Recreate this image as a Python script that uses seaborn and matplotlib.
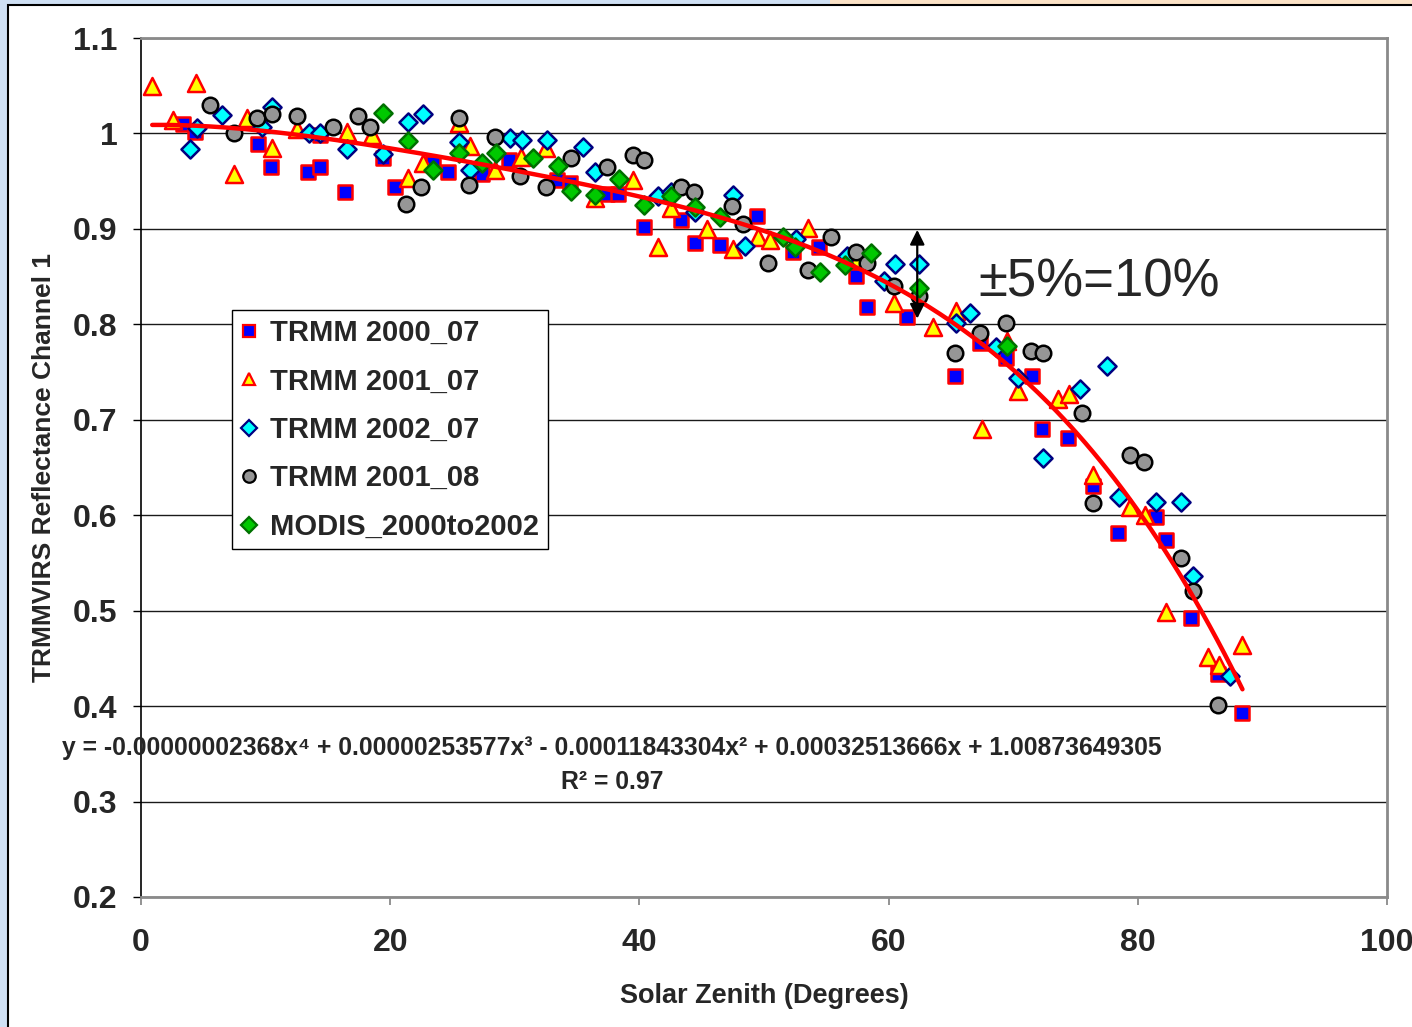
import numpy as np
import pandas as pd
import matplotlib
matplotlib.use("Agg")
import matplotlib.pyplot as plt
import seaborn as sns
from matplotlib.patches import Rectangle
from matplotlib.lines import Line2D

# ---------------- data ----------------
sq_x = [3.4, 4.3, 9.4, 10.4, 13.4, 14.4, 14.4, 16.4, 19.4, 20.4, 23.4, 24.6, 27.4, 29.5, 33.4, 34.4,
        37.4, 38.3, 40.4, 43.3, 44.5, 46.5, 49.4, 52.3, 54.4, 57.4, 58.3, 61.5, 65.3, 67.3, 69.4, 71.5,
        72.3, 74.4, 76.4, 78.4, 81.5, 82.3, 84.3, 86.4, 88.4]
sq_y = [1.010, 1.002, 0.989, 0.965, 0.960, 0.965, 0.998, 0.939, 0.974, 0.944, 0.969, 0.960, 0.957,
        0.972, 0.951, 0.948, 0.937, 0.937, 0.902, 0.909, 0.885, 0.883, 0.914, 0.876, 0.881, 0.851,
        0.818, 0.808, 0.746, 0.780, 0.765, 0.746, 0.690, 0.681, 0.631, 0.581, 0.598, 0.574, 0.492,
        0.434, 0.393]

tri_x = [0.9, 2.6, 4.4, 7.5, 8.5, 10.5, 12.5, 16.5, 18.5, 21.4, 22.6, 25.5, 26.4, 28.4, 30.5, 32.5,
         36.4, 39.5, 41.5, 42.5, 45.4, 47.5, 49.5, 50.5, 53.5, 57.5, 60.4, 63.6, 65.4, 67.5, 69.5,
         70.4, 73.6, 74.5, 76.4, 79.4, 80.6, 82.3, 85.6, 86.5, 88.4]
tri_y = [1.050, 1.014, 1.053, 0.958, 1.016, 0.985, 1.005, 1.001, 0.998, 0.953, 0.969, 1.011, 0.987,
         0.962, 0.975, 0.985, 0.932, 0.951, 0.881, 0.922, 0.900, 0.879, 0.892, 0.888, 0.901, 0.867,
         0.822, 0.797, 0.814, 0.690, 0.783, 0.730, 0.722, 0.727, 0.642, 0.609, 0.600, 0.499, 0.451,
         0.443, 0.464]

dia_x = [3.9, 4.5, 6.5, 9.7, 10.5, 13.5, 14.4, 16.5, 19.4, 21.4, 22.6, 25.5, 26.4, 29.6, 30.6, 32.6,
         35.5, 36.4, 41.5, 42.5, 44.5, 47.5, 48.5, 52.6, 56.7, 59.6, 60.5, 62.4, 65.4, 66.5, 68.6,
         70.4, 72.4, 75.4, 77.5, 78.5, 81.5, 83.5, 84.4, 87.4]
dia_y = [0.984, 1.006, 1.019, 1.007, 1.028, 1.000, 1.000, 0.984, 0.978, 1.012, 1.020, 0.991, 0.962,
         0.995, 0.993, 0.993, 0.986, 0.960, 0.934, 0.939, 0.918, 0.935, 0.882, 0.889, 0.872, 0.845,
         0.863, 0.863, 0.801, 0.812, 0.776, 0.744, 0.660, 0.732, 0.756, 0.619, 0.614, 0.614, 0.536,
         0.432]

cir_x = [5.5, 7.5, 9.3, 10.5, 12.5, 15.4, 17.4, 18.4, 21.3, 22.5, 25.5, 26.3, 28.4, 30.4, 32.5, 34.5,
         37.4, 39.5, 40.4, 43.3, 44.4, 47.4, 48.3, 50.3, 53.5, 55.4, 57.4, 58.3, 60.4, 62.4, 65.3,
         67.3, 69.4, 71.4, 72.4, 75.5, 76.4, 79.4, 80.5, 83.5, 84.4, 86.4]
cir_y = [1.030, 1.000, 1.016, 1.020, 1.018, 1.007, 1.018, 1.007, 0.926, 0.944, 1.016, 0.946, 0.996,
         0.955, 0.944, 0.974, 0.965, 0.977, 0.972, 0.944, 0.939, 0.924, 0.905, 0.864, 0.857, 0.892,
         0.876, 0.864, 0.840, 0.830, 0.770, 0.791, 0.801, 0.772, 0.770, 0.707, 0.613, 0.663, 0.656,
         0.555, 0.521, 0.401]

mod_x = [19.4, 21.4, 23.4, 25.5, 27.4, 28.5, 31.5, 33.5, 34.5, 36.4, 38.4, 40.4, 42.5, 44.5, 46.5,
         51.5, 52.5, 54.5, 56.5, 58.6, 62.4, 69.5]
mod_y = [1.021, 0.992, 0.962, 0.979, 0.969, 0.980, 0.974, 0.966, 0.940, 0.936, 0.952, 0.925, 0.934,
         0.923, 0.912, 0.892, 0.881, 0.855, 0.862, 0.875, 0.838, 0.777]

series_names = ["TRMM 2000_07", "TRMM 2001_07", "TRMM 2002_07", "TRMM 2001_08", "MODIS_2000to2002"]

# polynomial trendline coefficients (as printed on the chart), highest power first
trend_coef = [-0.00000002368, 0.00000253577, -0.00011843304, 0.00032513666, 1.00873649305]
equation_text = ("y = -0.00000002368x\u2074 + 0.00000253577x\u00b3 - 0.00011843304x\u00b2 "
                 "+ 0.00032513666x + 1.00873649305")
r2_text = "R\u00b2 = 0.97"

x_ticks = [0, 20, 40, 60, 80, 100]
y_ticks = [0.2, 0.3, 0.4, 0.5, 0.6, 0.7, 0.8, 0.9, 1.0, 1.1]
y_tick_labels = ["0.2", "0.3", "0.4", "0.5", "0.6", "0.7", "0.8", "0.9", "1", "1.1"]

# ---------------- style ----------------
sns.set_style("white")
plt.rcParams["font.family"] = ["Liberation Sans", "DejaVu Sans"]

W, H = 1412, 1027
fig = plt.figure(figsize=(W / 100, H / 100), dpi=100)
fig.patch.set_facecolor("#cfe0f4")
# white slide area with black frame and peach strip on top
fig.add_artist(Rectangle((830 / W, 1 - 5 / H), 1 - 830 / W, 5 / H, transform=fig.transFigure,
                         facecolor="#fbe2c6", edgecolor="none", zorder=0))
fig.add_artist(Rectangle((8 / W, -0.01), 1.0, 1 - 5 / H + 0.01, transform=fig.transFigure,
                         facecolor="white", edgecolor="black", linewidth=1.5, zorder=0))

ax = fig.add_axes([141 / W, 1 - 897 / H, 1246 / W, 859 / H])
ax.set_facecolor("white")

styles = [
    dict(marker="s", s=95, color="#0000ff", edgecolor="#ff0000", linewidth=1.8),
    dict(marker="^", s=150, color="#ffff00", edgecolor="#ff0000", linewidth=1.8),
    dict(marker="D", s=85, color="#00ffff", edgecolor="#000080", linewidth=1.8),
    dict(marker="o", s=125, color="#969696", edgecolor="#000000", linewidth=1.8),
    dict(marker="D", s=85, color="#00c800", edgecolor="#007000", linewidth=1.8),
]
data = [(sq_x, sq_y), (tri_x, tri_y), (dia_x, dia_y), (cir_x, cir_y), (mod_x, mod_y)]
for i, ((xs, ys), st, name) in enumerate(zip(data, styles, series_names)):
    sns.scatterplot(x=xs, y=ys, ax=ax, zorder=3 + i, legend=False, **st)

# trendline
all_x = np.concatenate([np.asarray(d[0]) for d in data])
xt = np.linspace(all_x.min(), all_x.max(), 300)
yt = np.polyval(trend_coef, xt)
sns.lineplot(x=xt, y=yt, ax=ax, color="#ff0000", linewidth=3.2, zorder=10, sort=False)

ax.set_xlim(0, 100)
ax.set_ylim(0.2, 1.1)
ax.set_xticks(x_ticks)
ax.set_xticklabels([str(t) for t in x_ticks])
ax.set_yticks(y_ticks)
ax.set_yticklabels(y_tick_labels)
ax.grid(axis="y", color="#1a1a1a", linewidth=1.0, zorder=1)
ax.grid(axis="x", visible=False)
ax.set_axisbelow(True)

for lbl in ax.get_xticklabels() + ax.get_yticklabels():
    lbl.set_fontweight("bold")
    lbl.set_fontsize(23)
ax.tick_params(axis="y", direction="out", length=6, width=1, color="black", pad=11, left=True)
ax.tick_params(axis="x", direction="out", length=6, width=1.2, color="#808080", pad=16, bottom=True)

ax.spines["left"].set_color("black")
ax.spines["left"].set_linewidth(1.2)
for sp in ["top", "right", "bottom"]:
    ax.spines[sp].set_color("#8a8a8a")
    ax.spines[sp].set_linewidth(2.0)

ax.set_xlabel("Solar Zenith (Degrees)", fontsize=19.5, fontweight="bold", labelpad=18)
ax.set_ylabel("TRMMVIRS Reflectance Channel 1", fontsize=19, fontweight="bold", labelpad=12)

# legend
handles = [Line2D([], [], linestyle="none", marker=st["marker"], markersize=9 if st["marker"] != "D" else 8,
                  markerfacecolor=st["color"], markeredgecolor=st["edgecolor"], markeredgewidth=1.6)
           for st in styles]
leg = ax.legend(handles, series_names, loc="upper left", bbox_to_anchor=(0.073, 0.683),
                borderaxespad=0, frameon=True, fancybox=False, framealpha=1, edgecolor="black",
                prop=dict(weight="bold", size=21), handlelength=0.6, handletextpad=0.4,
                labelspacing=0.70, borderpad=0.3)
leg.get_frame().set_linewidth(1.0)
leg.set_zorder(20)

# double arrow and annotation
ax.annotate("", xy=(62.3, 0.806), xytext=(62.3, 0.899),
            arrowprops=dict(arrowstyle="<|-|>", color="black", lw=1.6, mutation_scale=22,
                            shrinkA=0, shrinkB=0), zorder=15)
ax.text(67.2, 0.844, "\u00b15%=10%", fontsize=38, va="center", ha="left", zorder=15)

# equation text
ax.text(37.8, 0.356, equation_text, fontsize=17.8, fontweight="bold", ha="center", va="center",
        zorder=15, clip_on=False)
ax.text(37.8, 0.321, r2_text, fontsize=17.8, fontweight="bold", ha="center", va="center", zorder=15)

fig.savefig("out.png", dpi=100, facecolor=fig.get_facecolor())
